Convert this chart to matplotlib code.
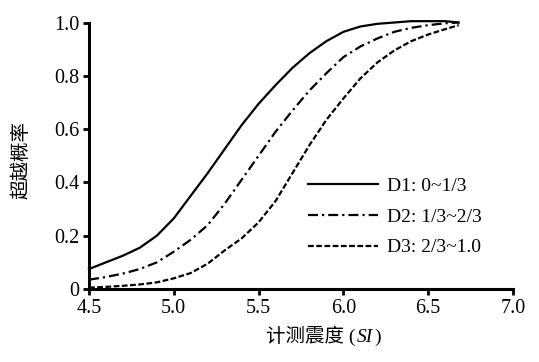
import matplotlib
matplotlib.use('Agg')
import matplotlib.pyplot as plt
from matplotlib.offsetbox import TextArea, HPacker, AnchoredOffsetbox

plt.rcParams['font.family'] = ['Liberation Serif', 'Noto Sans CJK SC']

# 计测震度
si = [4.5, 4.6, 4.7, 4.8, 4.9, 5.0, 5.1, 5.2, 5.3, 5.4, 5.5, 5.6,
      5.7, 5.8, 5.9, 6.0, 6.1, 6.2, 6.3, 6.4, 6.5, 6.6, 6.68]
# 超越概率
d1 = [0.075, 0.10, 0.125, 0.155, 0.20, 0.265, 0.35, 0.435, 0.525, 0.615, 0.695, 0.765,
      0.83, 0.885, 0.93, 0.965, 0.985, 0.995, 1.0, 1.005, 1.005, 1.005, 1.0]
d2 = [0.035, 0.045, 0.058, 0.075, 0.10, 0.14, 0.185, 0.24, 0.32, 0.41, 0.50, 0.59,
      0.67, 0.745, 0.81, 0.87, 0.91, 0.94, 0.965, 0.98, 0.99, 0.997, 1.0]
d3 = [0.005, 0.008, 0.012, 0.017, 0.025, 0.04, 0.06, 0.095, 0.145, 0.19, 0.25, 0.33,
      0.435, 0.54, 0.635, 0.715, 0.79, 0.85, 0.895, 0.93, 0.955, 0.975, 0.99]
labels = ['D1: 0~1/3', 'D2: 1/3~2/3', 'D3: 2/3~1.0']

xticks = [4.5, 5.0, 5.5, 6.0, 6.5, 7.0]
yticks = [0, 0.2, 0.4, 0.6, 0.8, 1.0]
yticklabels = ['0', '0.2', '0.4', '0.6', '0.8', '1.0']

fig = plt.figure(figsize=(5.39, 3.62), dpi=100)
ax = fig.add_axes([89 / 539, 73 / 362, 424 / 539, 266.5 / 362])

ax.plot(si, d1, color='black', lw=1.6, ls='-', label=labels[0], clip_on=False)
ax.plot(si, d2, color='black', lw=1.6, ls=(0, (4.5, 1.8, 1.0, 1.8)), label=labels[1], clip_on=False)
ax.plot(si, d3, color='black', lw=1.6, ls=(0, (2.6, 1.1)), label=labels[2], clip_on=False)

ax.set_xlim(4.5, 7.0)
ax.set_ylim(0, 1.0)
ax.set_xticks(xticks)
ax.set_xticklabels(['%.1f' % v for v in xticks])
ax.set_yticks(yticks)
ax.set_yticklabels(yticklabels)

for s in ['top', 'right']:
    ax.spines[s].set_visible(False)
for s in ['left', 'bottom']:
    ax.spines[s].set_linewidth(2.2)
ax.tick_params(direction='out', length=4, width=2, labelsize=14.5, pad=3)

# x轴标题: 计测震度 (SI)，SI 为斜体
fp = dict(size=14, family=['Liberation Serif', 'Noto Sans CJK SC'])
parts = [TextArea('计测震度 (', textprops=fp),
         TextArea('SI', textprops=dict(fp, style='italic')),
         TextArea(')', textprops=fp)]
box = HPacker(children=parts, align='baseline', pad=0, sep=1)
anchored = AnchoredOffsetbox(loc='center', child=box, frameon=False, pad=0,
                             bbox_to_anchor=(0.552, -0.175), bbox_transform=ax.transAxes)
ax.add_artist(anchored)

ax.set_ylabel('超越概率', fontsize=14)
ax.yaxis.set_label_coords(-0.139, 0.484)

ax.legend(loc='upper left', bbox_to_anchor=(0.516, 0.42), frameon=False, fontsize=14,
          handlelength=3.6, handletextpad=0.45, labelspacing=0.68,
          borderpad=0, borderaxespad=0)

plt.savefig('out.png', dpi=100)
